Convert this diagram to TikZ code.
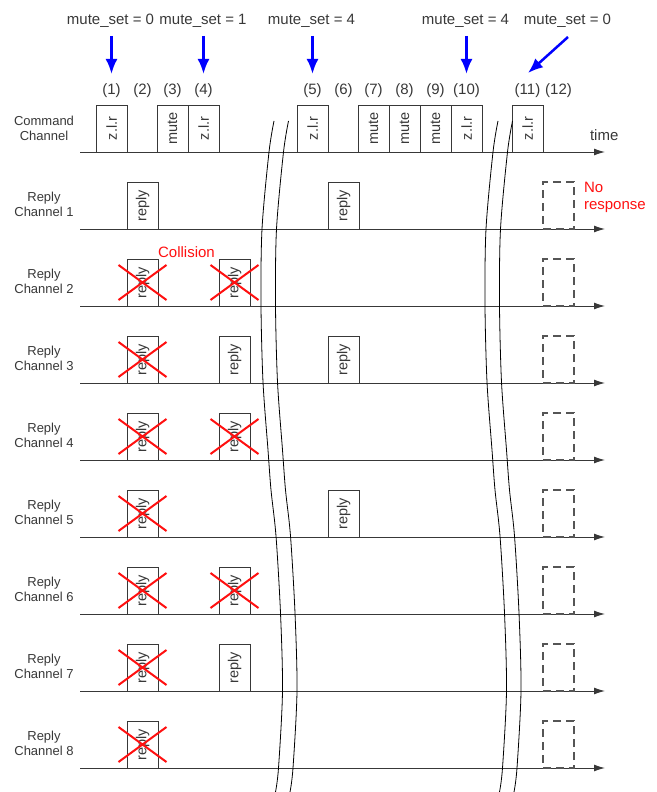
\documentclass[tikz,border=0pt]{standalone}
\usepackage{fontspec}
\setmainfont{Liberation Sans}
\usetikzlibrary{arrows.meta,calc}

\definecolor{ink}{HTML}{383838}
\definecolor{hitred}{HTML}{FF1010}
\definecolor{setblue}{HTML}{0000FF}
\definecolor{ghost}{HTML}{555555}

% one wavy "time break" line, starting at x = #1
\newcommand\breakwave[1]{%
  \draw[breakline] plot[smooth] coordinates {
    (#1,121) (#1-5,152) (#1-12,229) (#1-13,305) (#1-11,382) (#1-6,450)
    (#1-3,490) (#1+2,536) (#1+6.5,613) (#1+8.5,691) (#1+4.5,768) (#1+1.5,792)};}

% red cross over a lost reply
\newcommand\lost[1]{%
  \draw[crossline] (#1.center) +(-24,-17.5) -- +(24,17.5)
                   (#1.center) +(-24,17.5) -- +(24,-17.5);}

\begin{document}
\begin{tikzpicture}[x=1pt,y=-1pt,
  every node/.style={inner sep=0pt, outer sep=0pt, text=ink},
  axisline/.style={draw=ink, line width=1pt, -{Latex[length=11pt,width=7pt]}},
  chanlabel/.style={align=center, anchor=north, font=\fontsize{13}{15}\selectfont},
  biglabel/.style={font=\fontsize{15}{17}\selectfont},
  numlabel/.style={biglabel, anchor=base},
  setlabel/.style={biglabel, anchor=base},
  slotbox/.style={draw=ink, line width=0.9pt, rotate=90, minimum width=47pt,
    minimum height=31pt, font=\fontsize{14.5}{16}\selectfont},
  ghostbox/.style={draw=ghost, line width=1.2pt, dash pattern=on 8pt off 5pt,
    minimum width=31pt, minimum height=47pt},
  crossline/.style={draw=hitred, line width=2pt},
  breakline/.style={draw=black, line width=0.8pt},
  setarrow/.style={draw=setblue, line width=2.5pt, -{Latex[length=15pt,width=12pt]}},
  redtext/.style={biglabel, text=hitred}
]
\useasboundingbox (0,0) rectangle (656,792);

% ---------- command channel ----------
\node[chanlabel] (cmdlbl) at (44,116) {Command\\Channel};
\coordinate (cs) at (80,152);
\coordinate (ce) at (605,152);
\draw[axisline] (cs) -- (ce);
\node[biglabel, anchor=base west] (time) at (590,140) {time};

\foreach \i/\x in {1/111.5,2/142.5,3/172.5,4/203.5,5/312.5,6/343.5,
                   7/373.5,8/404.5,9/435.5,10/466.5,11/527.5,12/558.5}
  \node[numlabel] (n\i) at (\x,94.5) {(\i)};

\foreach \i/\x/\t in {1/111.5/z.l.r,3/172.5/mute,4/203.5/z.l.r,5/312.5/z.l.r,
                      7/373.5/mute,8/404.5/mute,9/435.5/mute,10/466.5/z.l.r,
                      11/527.5/z.l.r}
  \node[slotbox] (c\i) at (\x,128.5) {\t};

% ---------- mute_set annotations ----------
\node[setlabel] (m1) at (110.5,25) {mute\_set = 0};
\node[setlabel] (m4) at (203,25) {mute\_set = 1};
\node[setlabel] (m5) at (311.5,25) {mute\_set = 4};
\node[setlabel] (m10) at (465.5,25) {mute\_set = 4};
\node[setlabel] (m11) at (567.5,25) {mute\_set = 0};

\foreach \i in {1,4,5,10}
  \draw[setarrow] ($(n\i.base |- m\i.base)+(0,11)$) -- ($(n\i.base)+(0,-20.5)$);
\draw[setarrow] ($(m11.base)+(0.5,12)$) -- ($(n11.base)+(0.5,-21.5)$);

% ---------- reply channels ----------
\foreach \k in {1,...,8} {
  \pgfmathsetmacro\ay{152+77*\k}
  \node[chanlabel] (lbl\k) at (44,\ay-36.5) {Reply\\Channel \k};
  \coordinate (s\k) at (80,\ay);
  \coordinate (e\k) at (605,\ay);
  \draw[axisline] (s\k) -- (e\k);
  \node[slotbox] (r\k-a) at (142.5,\ay-23.5) {reply};
  \node[ghostbox] (g\k) at (558.5,\ay-23.5) {};
}
\foreach \k in {2,3,4,6,7} {
  \pgfmathsetmacro\ay{152+77*\k}
  \node[slotbox] (r\k-b) at (234.5,\ay-23.5) {reply};
}
\foreach \k in {1,3,5} {
  \pgfmathsetmacro\ay{152+77*\k}
  \node[slotbox] (r\k-c) at (343.5,\ay-23.5) {reply};
}

% collided replies
\foreach \k in {2,...,8} { \lost{r\k-a} }
\foreach \k in {2,4,6} { \lost{r\k-b} }

\node[redtext, anchor=base] (coll) at (186.5,257) {Collision};
\node[redtext, align=left, anchor=north west] (nores) at (584,182) {No\\response};

% ---------- time breaks ----------
\breakwave{274}
\breakwave{288.5}
\breakwave{498}
\breakwave{512.5}

\end{tikzpicture}
\end{document}
